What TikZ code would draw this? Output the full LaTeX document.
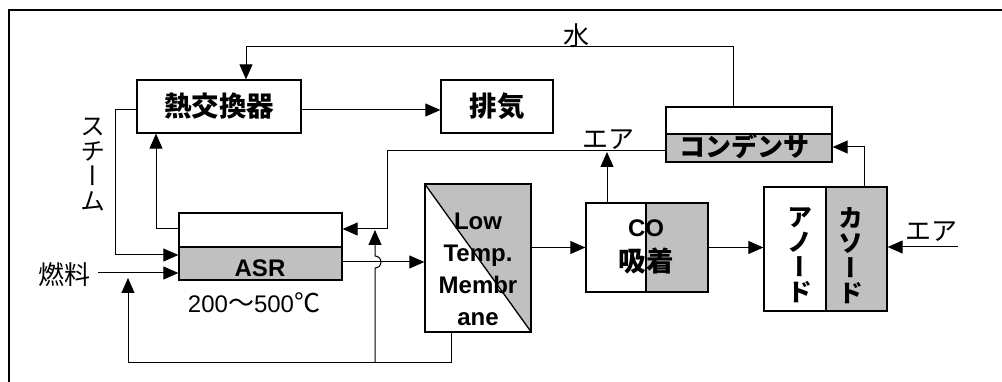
\documentclass[tikz,border=0pt]{standalone}
\usepackage{fontspec}
\setmainfont{Liberation Sans}
\newfontfamily\jp{Noto Sans CJK JP}
\newfontfamily\jpv[RawFeature={+vert}]{Noto Sans CJK JP}
\usetikzlibrary{arrows.meta}
\definecolor{boxgray}{RGB}{192,192,192}
\begin{document}
\begin{tikzpicture}[x=1pt,y=-1pt,
  box/.style={draw, line width=1.3pt, inner sep=0pt},
  gbox/.style={box, fill=boxgray},
  conn/.style={line width=1pt},
  arr/.style={conn, -{Triangle[length=15pt,width=13pt]}},
  jpb/.style={font=\jp\bfseries\fontsize{26}{26}\selectfont, inner sep=0pt},
  jpbk/.style={font=\jp\bfseries\fontsize{27.5}{27.5}\selectfont, inner sep=0pt},
  jpr/.style={font=\jp\fontsize{26}{26}\selectfont, inner sep=0pt},
  jpbv/.style={font=\jpv\bfseries\fontsize{25}{25}\selectfont, align=center, inner sep=0pt},
  jprv/.style={font=\jpv\fontsize{25}{25}\selectfont, align=center, inner sep=0pt},
  lb/.style={font=\bfseries\fontsize{24}{24}\selectfont, inner sep=0pt, anchor=base},
  lr/.style={font=\fontsize{24}{24}\selectfont, inner sep=0pt}
]
\useasboundingbox (0,0) rectangle (1002,382);
\draw[line width=2pt] (9,10) rectangle (1015,395);

% boxes
\node[box, jpbk, minimum width=164, minimum height=53] (hx) at (219,106.5) {熱交換器};
\node[box, jpbk, minimum width=112, minimum height=53] (ex) at (497,106.5) {排気};
\node[box, minimum width=166, minimum height=27] (condT) at (749,120.5) {};
\node[gbox, minimum width=166, minimum height=28] (condB) at (749,148) {};
\node[jpb] (condL) at (744,146) {コンデンサ};

\node[box, minimum width=163, minimum height=34] (asrT) at (260.5,230) {};
\node[gbox, minimum width=163, minimum height=33] (asrB) at (260.5,263.5) {};
\node[lb] (asrL) at (260,277) {ASR};

\fill[boxgray] (425,184) -- (531,184) -- (531,332) -- cycle;
\node[box, minimum width=106, minimum height=148] (mem) at (478,258) {};
\draw[line width=1.3pt] (mem.north west) -- (mem.south east);
\node[lb] (m1) at (478,230) {Low};
\node[lb] (m2) at (478,262) {Temp.};
\node[lb] (m3) at (478,294) {Membr};
\node[lb] (m4) at (478,325) {ane};

\node[box, minimum width=60, minimum height=89] (coL) at (616,247.5) {};
\node[gbox, minimum width=62, minimum height=89] (coR) at (677,247.5) {};
\node[lb] (coT) at (646,237) {CO};
\node[jpbk] (coJ) at (646,261) {吸着};

\node[box, minimum width=62, minimum height=124] (an) at (795,249) {};
\node[gbox, minimum width=61, minimum height=124] (ca) at (856.5,249) {};
\node[jpbv] (anL) at (800,255.5) {ア\\ノ\\ー\\ド};
\node[jpbv] (caL) at (851,255.5) {カ\\ソ\\ー\\ド};

% labels
\node[jpr] (water) at (576,36) {水};
\node[jprv] (steam) at (93,165) {ス\\チ\\ー\\ム};
\node[jpr] (fuel) at (64,275) {燃料};
\node[jpr] (air1) at (608,140) {エア};
\node[jpr] (air2) at (931,232) {エア};
\node[lr] (temp) at (254,303) {200{\jp\fontsize{26}{26}\selectfont 〜}500{\jp\fontsize{26}{26}\selectfont ℃}};

% connectors
\coordinate (w1) at (733,47);
\coordinate (w2) at (246,47);
\draw[arr] (condT.north -| w1) -- (w1) -- (w2) -- (w2 |- hx.north);

\draw[arr] (hx.east |- 0,110) -- (ex.west |- 0,110);

\coordinate (s1) at (115,110);
\draw[arr] (hx.west |- s1) -- (s1) |- (asrB.west |- 0,255);

\draw[arr] (asrT.west |- 0,229) -| (hx.south -| 156,0);

\coordinate (f0) at (98,273);
\draw[arr] (f0) -- (asrB.west |- f0);

\draw[arr] (asrB.east |- 0,262) -- (mem.west |- 0,262);

\coordinate (r1) at (128,362);
\coordinate (r2) at (128,278);
\draw[arr] (mem.south -| 451,0) |- (r1) -- (r2);

\coordinate (b0) at (375,362);
\coordinate (b1) at (375,230);
\draw[arr] (b0) -- (375,268) arc[start angle=90, end angle=-90, radius=6] -- (b1);

\coordinate (c1) at (387,151);
\draw[arr] (condB.west |- c1) -- (c1) |- (asrT.east |- 0,229);

\coordinate (c2) at (607,152);
\draw[arr] (coL.north -| c2) -- (c2);

\draw[arr] (mem.east |- coL.west) -- (coL.west);
\draw[arr] (coR.east) -- (an.west |- coR.east);

\coordinate (a0) at (958,247);
\draw[arr] (a0) -- (ca.east |- a0);

\coordinate (k1) at (864,147);
\draw[arr] (ca.north -| k1) -- (k1) -- (condB.east |- k1);
\end{tikzpicture}
\end{document}
